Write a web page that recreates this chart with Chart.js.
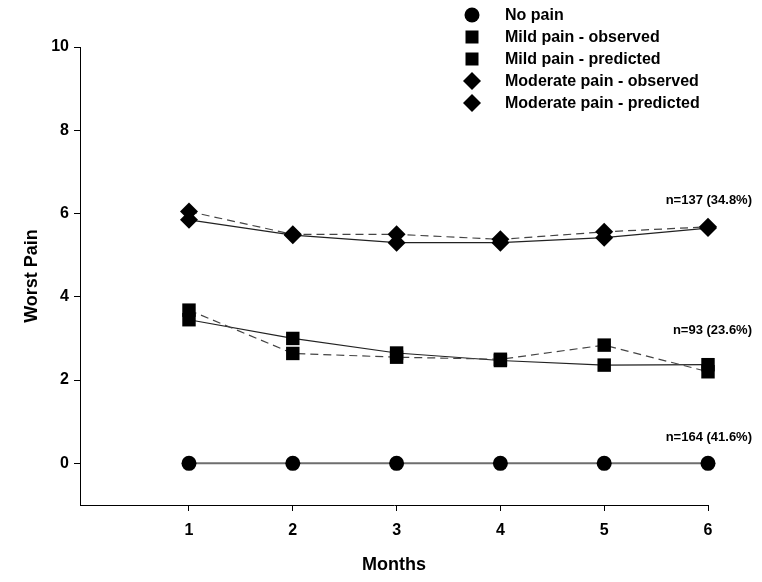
<!DOCTYPE html>
<html>
<head>
<meta charset="utf-8">
<script src="https://cdn.jsdelivr.net/npm/chart.js@4/dist/chart.umd.min.js"></script>
<style>
  html, body { margin: 0; padding: 0; background: #fff; }
  #wrap { width: 762px; height: 582px; position: relative; }
</style>
</head>
<body>
<div id="wrap"><canvas id="painChart"></canvas></div>
<script>
// Data
const months = [1, 2, 3, 4, 5, 6];
const noPain = [0, 0, 0, 0, 0, 0];
const mildObserved = [3.68, 2.64, 2.55, 2.5, 2.84, 2.2];
const mildPredicted = [3.45, 3.0, 2.65, 2.47, 2.36, 2.37];
const moderateObserved = [6.05, 5.5, 5.5, 5.38, 5.56, 5.68];
const moderatePredicted = [5.85, 5.48, 5.3, 5.3, 5.42, 5.65];

const yTicks = [0, 2, 4, 6, 8, 10];
const xTicks = [1, 2, 3, 4, 5, 6];

const seriesLabels = [
  "No pain",
  "Mild pain - observed",
  "Mild pain - predicted",
  "Moderate pain - observed",
  "Moderate pain - predicted",
];

// group size notes and the level they sit at
const groupNotes = ["n=137 (34.8%)", "n=93 (23.6%)", "n=164 (41.6%)"];
const noteLevels = [6.32, 3.2, 0.62];

const FONT = "'Liberation Sans', Arial, sans-serif";

function toPoints(values) {
  return months.map((m, i) => ({ x: m, y: values[i] }));
}

// legend drawn by hand so it can overlap the plot like the original
const markerLegend = {
  id: "markerLegend",
  afterDraw(chart) {
    const ctx = chart.ctx;
    ctx.save();
    ctx.fillStyle = "#000";
    ctx.font = "bold 16px " + FONT;
    ctx.textBaseline = "middle";
    chart.data.datasets.forEach((ds, i) => {
      const y = 15 + i * 22;
      const x = 472;
      ctx.beginPath();
      if (ds.pointStyle === "circle") {
        ctx.arc(x, y, 7.5, 0, Math.PI * 2);
      } else if (ds.pointStyle === "rect") {
        ctx.rect(x - 6.5, y - 6.5, 13, 13);
      } else {
        ctx.moveTo(x, y - 9);
        ctx.lineTo(x + 9, y);
        ctx.lineTo(x, y + 9);
        ctx.lineTo(x - 9, y);
        ctx.closePath();
      }
      ctx.fill();
      ctx.fillText(ds.label, 505, y + 1);
    });
    ctx.restore();
  },
};

const groupNotePlugin = {
  id: "groupNotes",
  afterDatasetsDraw(chart) {
    const ctx = chart.ctx;
    const xs = chart.scales.x;
    const ys = chart.scales.y;
    ctx.save();
    ctx.fillStyle = "#000";
    ctx.font = "bold 13px " + FONT;
    ctx.textAlign = "right";
    ctx.textBaseline = "middle";
    groupNotes.forEach((note, i) => {
      ctx.fillText(note, xs.right + 44, ys.getPixelForValue(noteLevels[i]));
    });
    ctx.restore();
  },
};

const ctx = document.getElementById("painChart").getContext("2d");
new Chart(ctx, {
  type: "line",
  data: {
    datasets: [
      {
        label: seriesLabels[0],
        data: toPoints(noPain),
        borderColor: "#6e6e6e",
        borderWidth: 2,
        pointStyle: "circle",
        pointRadius: 7.5,
        pointBackgroundColor: "#000",
        pointBorderWidth: 0,
        clip: false,
      },
      {
        label: seriesLabels[1],
        data: toPoints(mildObserved),
        borderColor: "#444",
        borderWidth: 1.2,
        borderDash: [8, 5],
        pointStyle: "rect",
        pointRadius: 9.5,
        pointBackgroundColor: "#000",
        pointBorderWidth: 0,
        clip: false,
      },
      {
        label: seriesLabels[2],
        data: toPoints(mildPredicted),
        borderColor: "#222",
        borderWidth: 1.2,
        pointStyle: "rect",
        pointRadius: 9.5,
        pointBackgroundColor: "#000",
        pointBorderWidth: 0,
        clip: false,
      },
      {
        label: seriesLabels[3],
        data: toPoints(moderateObserved),
        borderColor: "#444",
        borderWidth: 1.2,
        borderDash: [8, 5],
        pointStyle: "rectRot",
        pointRadius: 9,
        pointBackgroundColor: "#000",
        pointBorderWidth: 0,
        clip: false,
      },
      {
        label: seriesLabels[4],
        data: toPoints(moderatePredicted),
        borderColor: "#222",
        borderWidth: 1.2,
        pointStyle: "rectRot",
        pointRadius: 9,
        pointBackgroundColor: "#000",
        pointBorderWidth: 0,
        clip: false,
      },
    ],
  },
  options: {
    responsive: true,
    maintainAspectRatio: false,
    animation: false,
    layout: { padding: { top: 47, right: 54, left: 0, bottom: 0 } },
    plugins: {
      legend: { display: false },
      tooltip: { enabled: false },
    },
    scales: {
      x: {
        type: "linear",
        min: -0.05,
        max: 6,
        afterBuildTicks: (scale) => {
          scale.ticks = xTicks.map((v) => ({ value: v }));
        },
        afterFit: (scale) => {
          scale.height = 77;
        },
        grid: {
          drawOnChartArea: false,
          drawTicks: true,
          tickLength: 6,
          color: "#000",
        },
        border: { display: true, color: "#000", width: 1 },
        ticks: {
          color: "#000",
          padding: 10,
          font: { family: FONT, size: 16, weight: "bold" },
        },
        title: {
          display: true,
          text: "Months",
          color: "#000",
          padding: { top: 0, bottom: 6 },
          font: { family: FONT, size: 18, weight: "bold" },
        },
      },
      y: {
        type: "linear",
        min: -1,
        max: 10,
        afterBuildTicks: (scale) => {
          scale.ticks = yTicks.map((v) => ({ value: v }));
        },
        afterFit: (scale) => {
          scale.width = 80;
        },
        grid: {
          drawOnChartArea: false,
          drawTicks: true,
          tickLength: 6,
          color: "#000",
        },
        border: { display: true, color: "#000", width: 1 },
        ticks: {
          color: "#000",
          padding: 5,
          font: { family: FONT, size: 16, weight: "bold" },
        },
        title: {
          display: true,
          text: "Worst Pain",
          color: "#000",
          padding: { top: 21, bottom: 0 },
          font: { family: FONT, size: 18, weight: "bold" },
        },
      },
    },
  },
  plugins: [markerLegend, groupNotePlugin],
});
</script>
</body>
</html>
